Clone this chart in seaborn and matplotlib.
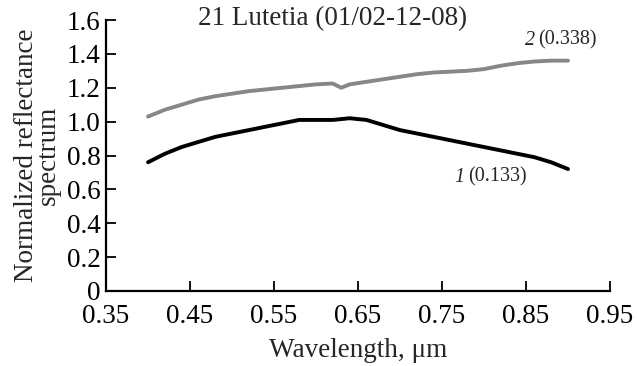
import matplotlib
matplotlib.use("Agg")
import matplotlib.pyplot as plt
import seaborn as sns
import pandas as pd

# Data
wl_2 = [0.40, 0.42, 0.44, 0.46, 0.48, 0.50, 0.52, 0.54, 0.56, 0.58, 0.60, 0.62, 0.63,
        0.64, 0.66, 0.68, 0.70, 0.72, 0.74, 0.76, 0.78, 0.80, 0.82, 0.84, 0.86, 0.88, 0.90]
refl_2 = [1.03, 1.07, 1.10, 1.13, 1.15, 1.165, 1.18, 1.19, 1.20, 1.21, 1.22, 1.225, 1.20,
          1.22, 1.235, 1.25, 1.265, 1.28, 1.29, 1.295, 1.30, 1.31, 1.33, 1.345, 1.355, 1.36, 1.36]
wl_1 = [0.40, 0.42, 0.44, 0.46, 0.48, 0.50, 0.52, 0.54, 0.56, 0.58, 0.60, 0.62, 0.64,
        0.66, 0.68, 0.70, 0.72, 0.74, 0.76, 0.78, 0.80, 0.82, 0.84, 0.86, 0.88, 0.90]
refl_1 = [0.76, 0.81, 0.85, 0.88, 0.91, 0.93, 0.95, 0.97, 0.99, 1.01, 1.01, 1.01, 1.02,
          1.01, 0.98, 0.95, 0.93, 0.91, 0.89, 0.87, 0.85, 0.83, 0.81, 0.79, 0.76, 0.72]

x_ticks = [0.35, 0.45, 0.55, 0.65, 0.75, 0.85, 0.95]
x_ticklabels = ["0.35", "0.45", "0.55", "0.65", "0.75", "0.85", "0.95"]
y_ticks = [0, 0.2, 0.4, 0.6, 0.8, 1.0, 1.2, 1.4, 1.6]
y_ticklabels = ["0", "0.2", "0.4", "0.6", "0.8", "1.0", "1.2", "1.4", "1.6"]

title = "21 Lutetia (01/02-12-08)"
label_1 = ("1", "(0.133)")
label_2 = ("2", "(0.338)")

sns.set_style("ticks")
plt.rcParams['font.family'] = ['Liberation Serif', 'DejaVu Serif']

FS = 19.5
fig = plt.figure(figsize=(6.37, 3.66), dpi=100)
ax = fig.add_axes([106/637, 1 - 291/366, (610 - 106)/637, (291 - 20)/366])

df1 = pd.DataFrame({"wl": wl_1, "r": refl_1})
df2 = pd.DataFrame({"wl": wl_2, "r": refl_2})
sns.lineplot(data=df2, x="wl", y="r", ax=ax, color="#878787", linewidth=2.8,
             estimator=None, sort=False)
sns.lineplot(data=df1, x="wl", y="r", ax=ax, color="black", linewidth=2.8,
             estimator=None, sort=False)

ax.set_xlim(0.35, 0.95)
ax.set_ylim(0, 1.6)
ax.set_xticks(x_ticks)
ax.set_xticklabels(x_ticklabels)
ax.set_yticks(y_ticks)
ax.set_yticklabels(y_ticklabels)
ax.tick_params(axis="both", direction="in", length=7, width=1.3, labelsize=FS,
               colors="black")
ax.tick_params(axis="x", pad=9.5)
ax.tick_params(axis="y", pad=4)
for s in ["left", "bottom"]:
    ax.spines[s].set_linewidth(1.6)
    ax.spines[s].set_color("black")
sns.despine(ax=ax)

ax.set_xlabel("Wavelength, μm", fontsize=FS, labelpad=6)
ax.set_ylabel("Normalized reflectance\nspectrum", fontsize=FS, labelpad=4, linespacing=0.85)

ax.text(0.62, 1.61, title, fontsize=FS, ha="center", va="center")

ax.text(0.861, 1.48, label_2[0], fontsize=14.5, style="italic", ha="right", va="center")
ax.text(0.865, 1.48, label_2[1], fontsize=14.5, ha="left", va="center")
ax.text(0.777, 0.673, label_1[0], fontsize=14.5, style="italic", ha="right", va="center")
ax.text(0.781, 0.673, label_1[1], fontsize=14.5, ha="left", va="center")

fig.savefig("out.png", dpi=100)
